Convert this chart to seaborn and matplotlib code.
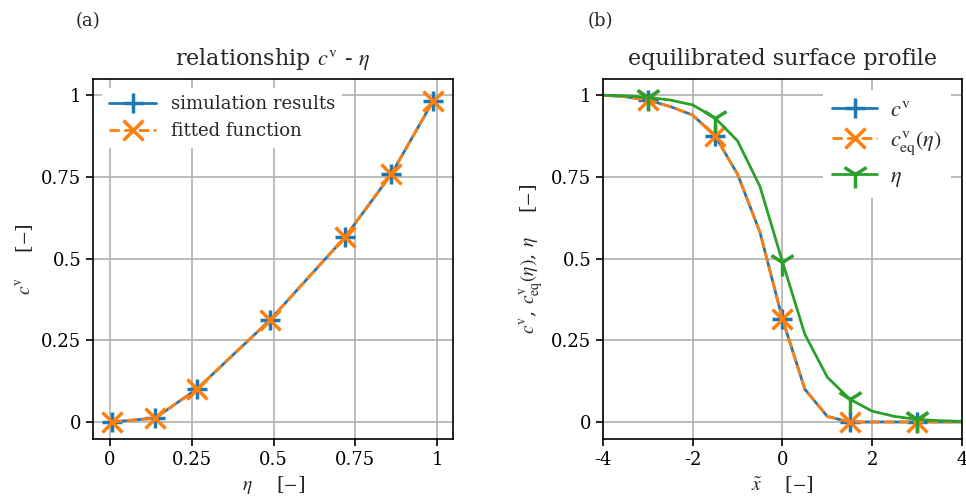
import matplotlib
matplotlib.use("Agg")
import matplotlib.pyplot as plt
import seaborn as sns
import numpy as np

# ---------------- data ----------------
# panel (a): relationship c^v - eta
eta_sim = [0.006, 0.138, 0.266, 0.489, 0.719, 0.860, 0.988]
cv_sim = [0.000, 0.012, 0.101, 0.312, 0.566, 0.758, 0.982]
eta_fit = [0.006, 0.138, 0.266, 0.489, 0.719, 0.860, 0.988]
cv_fit = [0.000, 0.012, 0.101, 0.312, 0.566, 0.758, 0.982]

# panel (b): equilibrated surface profile
x_tilde = [-4.0, -3.5, -3.0, -2.5, -2.0, -1.5, -1.0, -0.5, 0.0, 0.5, 1.0, 1.5, 2.0, 2.5, 3.0, 3.5, 4.0]
cv_prof = [1.000, 0.995, 0.985, 0.965, 0.939, 0.875, 0.758, 0.580, 0.315, 0.100, 0.017, 0.000, 0.000, 0.000, 0.000, 0.000, 0.000]
cveq_prof = [1.000, 0.995, 0.985, 0.965, 0.939, 0.875, 0.758, 0.580, 0.315, 0.100, 0.017, 0.000, 0.000, 0.000, 0.000, 0.000, 0.000]
eta_prof = [1.000, 0.998, 0.993, 0.985, 0.970, 0.930, 0.860, 0.720, 0.490, 0.268, 0.137, 0.070, 0.033, 0.017, 0.008, 0.004, 0.002]

ticks_a = [0, 0.25, 0.5, 0.75, 1]
ticklabels_a = ["0", "0.25", "0.5", "0.75", "1"]
xticks_b = [-4, -2, 0, 2, 4]
xticklabels_b = ["-4", "-2", "0", "2", "4"]

# ---------------- style ----------------
sns.set_style("ticks")
plt.rcParams["font.family"] = ["DejaVu Serif"]
plt.rcParams["mathtext.fontset"] = "stix"
plt.rcParams["axes.edgecolor"] = "black"
plt.rcParams["axes.linewidth"] = 1.2
plt.rcParams["xtick.color"] = "black"
plt.rcParams["ytick.color"] = "black"
plt.rcParams["xtick.direction"] = "out"
plt.rcParams["ytick.direction"] = "out"

FS = 13
blue, orange, green = "#1f77b4", "#ff7f0e", "#2ca02c"


def styled(color, marker, ms, **extra):
    d = dict(color=color, lw=2, marker=marker, markersize=ms,
             markeredgewidth=2.5, markeredgecolor=color, markerfacecolor=color,
             sort=False, estimator=None)
    d.update(extra)
    return d


fig = plt.figure(figsize=(9.66, 5.04), dpi=100)
axA = fig.add_axes([0.0963, 0.129, 0.3727, 0.714])
axB = fig.add_axes([0.6242, 0.129, 0.3716, 0.714])

# panel (a)
sns.lineplot(x=eta_sim, y=cv_sim, ax=axA, label="simulation results",
             **styled(blue, "+", 15))
sns.lineplot(x=eta_fit, y=cv_fit, ax=axA, label="fitted function",
             **styled(orange, "x", 14, ls="--"))
axA.set_xlim(-0.052, 1.049)
axA.set_ylim(-0.052, 1.049)
axA.set_xticks(ticks_a)
axA.set_xticklabels(ticklabels_a)
axA.set_yticks(ticks_a)
axA.set_yticklabels(ticklabels_a)
axA.set_title(r"relationship $c^{\mathrm{v}}$ - $\eta$", fontsize=16, pad=10)
axA.set_xlabel(r"$\eta$    [$-$]", fontsize=FS + 1)
axA.set_ylabel(r"$c^{\mathrm{v}}$    [$-$]", fontsize=FS + 1)
axA.legend(loc="upper left", fontsize=FS, frameon=True, framealpha=1,
           edgecolor="none", handlelength=2.6, fancybox=False)

# panel (b)
sns.lineplot(x=x_tilde, y=cv_prof, ax=axB, label=r"$c^{\mathrm{v}}$",
             **styled(blue, "+", 15, markevery=(2, 3)))
sns.lineplot(x=x_tilde, y=cveq_prof, ax=axB, label=r"$c^{\mathrm{v}}_{\mathrm{eq}}(\eta)$",
             **styled(orange, "x", 14, ls="--", markevery=(2, 3)))
sns.lineplot(x=x_tilde, y=eta_prof, ax=axB, label=r"$\eta$",
             **styled(green, "1", 20, markevery=(2, 3)))
axB.set_xlim(-4, 4)
axB.set_ylim(-0.052, 1.049)
axB.set_xticks(xticks_b)
axB.set_xticklabels(xticklabels_b)
axB.set_yticks(ticks_a)
axB.set_yticklabels(ticklabels_a)
axB.set_title("equilibrated surface profile", fontsize=16, pad=10)
axB.set_xlabel(r"$\tilde{x}$    [$-$]", fontsize=FS + 1)
axB.set_ylabel(r"$c^{\mathrm{v}}$, $c^{\mathrm{v}}_{\mathrm{eq}}(\eta)$, $\eta$    [$-$]",
               fontsize=FS + 1)
axB.legend(loc="upper right", fontsize=16, frameon=True, framealpha=1,
           edgecolor="none", handlelength=2.0, handletextpad=0.6,
           labelspacing=0.35, fancybox=False)

for ax in (axA, axB):
    ax.grid(True, color="#b0b0b0", lw=1.2)
    ax.set_axisbelow(True)
    ax.tick_params(labelsize=FS, length=5, width=1.2)
    for s in ax.spines.values():
        s.set_visible(True)
        s.set_color("black")

fig.text(0.091, 0.958, "(a)", fontsize=FS, ha="center", va="center")
fig.text(0.621, 0.958, "(b)", fontsize=FS, ha="center", va="center")

fig.savefig("out.png", dpi=100)
